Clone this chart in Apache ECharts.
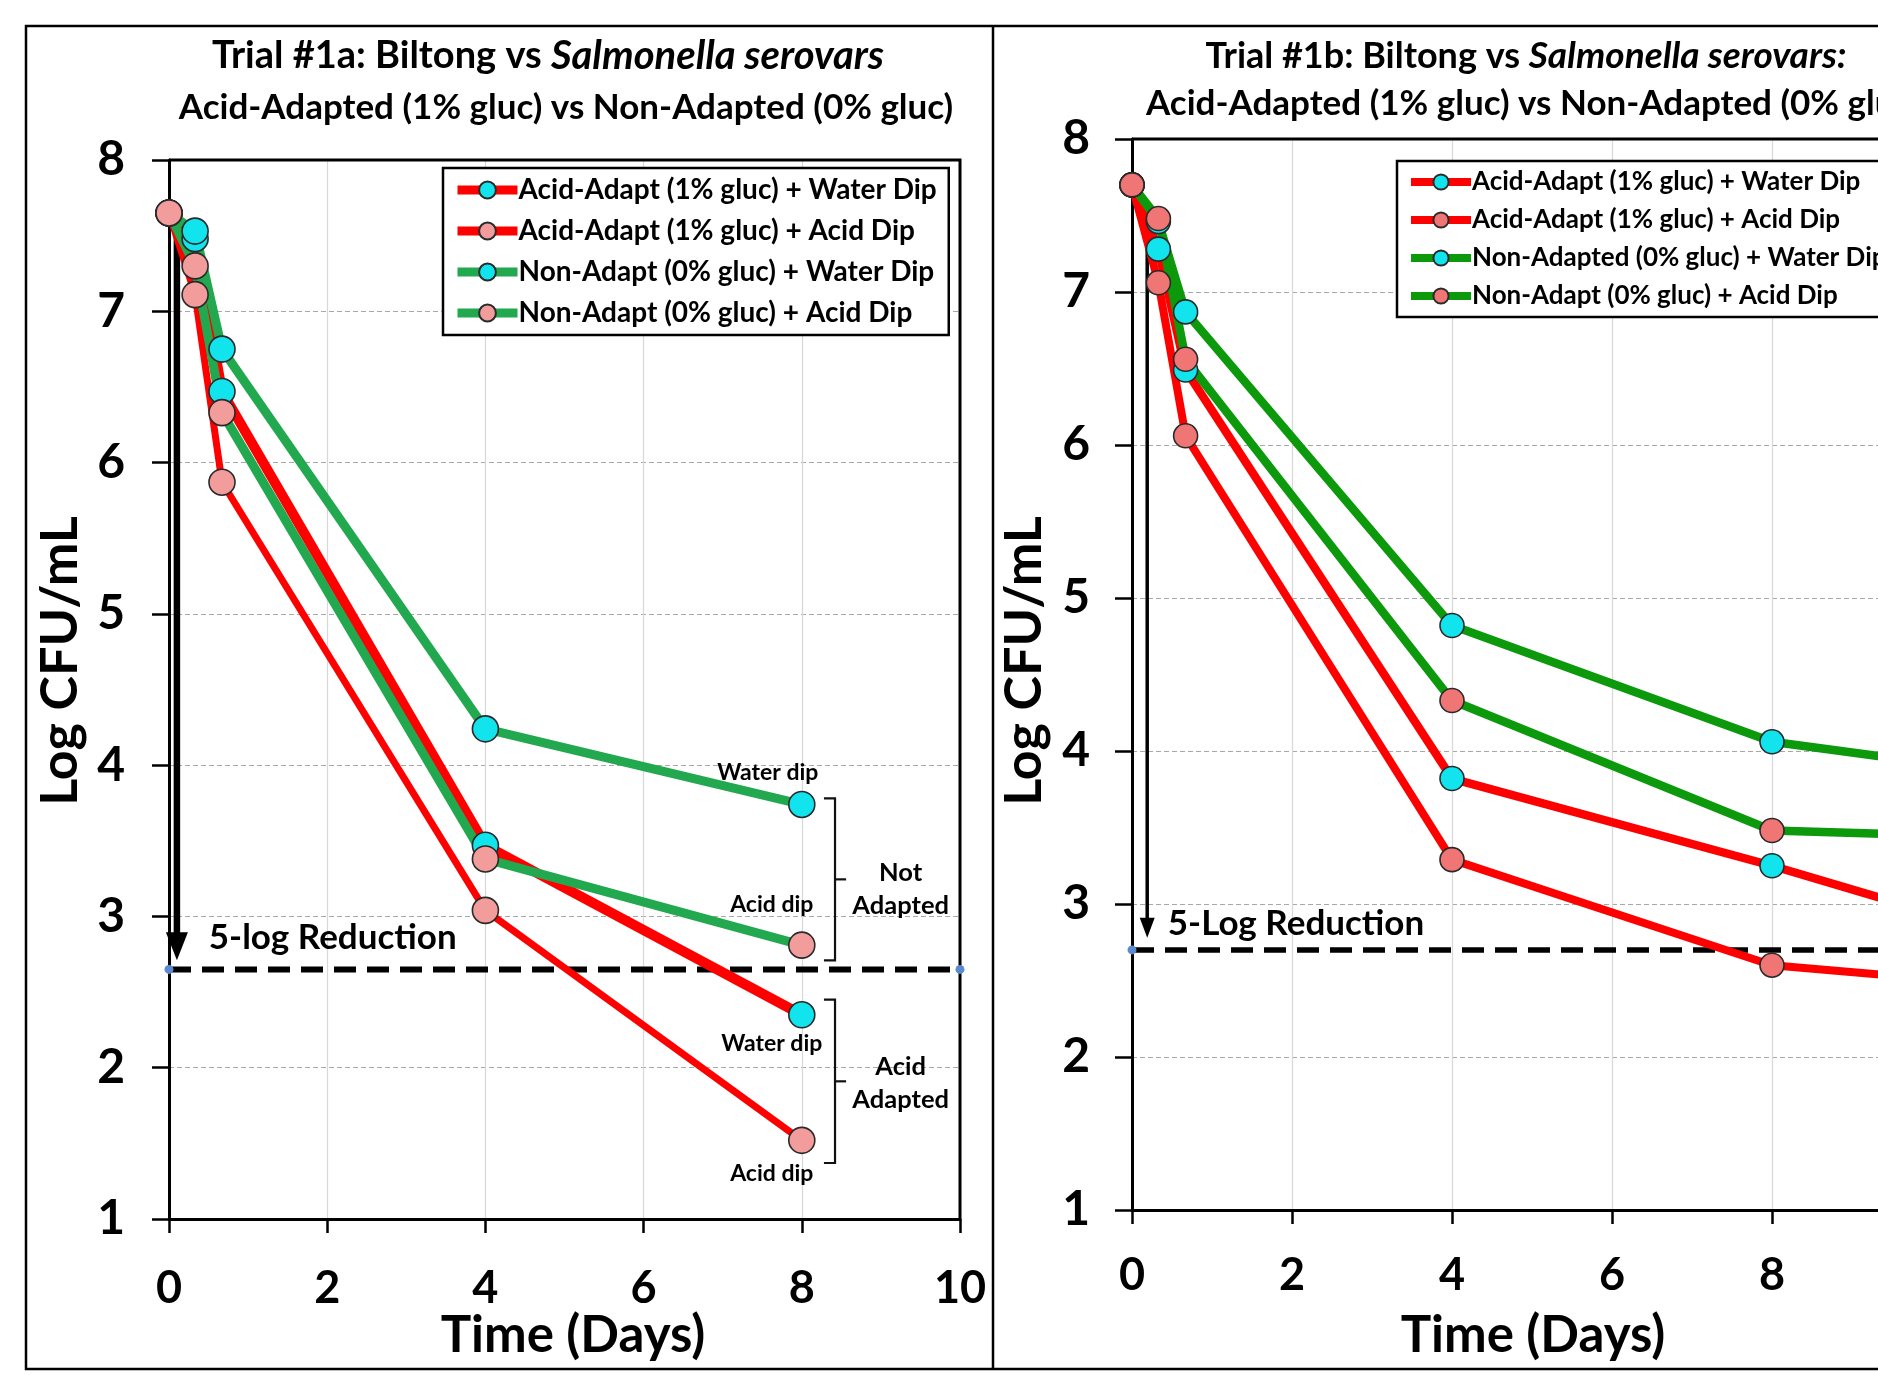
<!DOCTYPE html>
<html><head><meta charset="utf-8">
<script src="https://cdn.jsdelivr.net/npm/echarts@6/dist/echarts.min.js"></script>
<style>html,body{margin:0;padding:0;overflow:hidden;background:#fff}#c{width:2000px;height:1375px}</style>
</head><body><div id="c"></div>
<script>
// ---------- DATA ----------
// Trial #1a (left panel)
const timesA = [0, 0.33, 0.67, 4, 8];
const a_AAwater = [7.65, 7.48, 6.47, 3.47, 2.35];
const a_AAacid  = [7.65, 7.11, 5.87, 3.04, 1.52];
const a_NAwater = [7.65, 7.53, 6.75, 4.24, 3.74];
const a_NAacid  = [7.65, 7.30, 6.33, 3.38, 2.81];
const a_target = 2.65;           // 5-log reduction level
const namesA = ['Acid-Adapt (1% gluc) + Water Dip', 'Acid-Adapt (1% gluc) + Acid Dip', 'Non-Adapt (0% gluc) + Water Dip', 'Non-Adapt (0% gluc) + Acid Dip'];
// Trial #1b (right panel)
const timesB = [0, 0.33, 0.67, 4, 8, 10];
const b_AAwater = [7.70, 7.28, 6.49, 3.82, 3.25, 2.94];
const b_AAacid  = [7.70, 7.06, 6.06, 3.29, 2.60, 2.51];
const b_NAwater = [7.70, 7.46, 6.87, 4.82, 4.06, 3.92];
const b_NAacid  = [7.70, 7.48, 6.56, 4.33, 3.48, 3.45];
const b_target = 2.70;
const namesB = ['Acid-Adapt (1% gluc) + Water Dip\u200b', 'Acid-Adapt (1% gluc) + Acid Dip\u200b', 'Non-Adapted (0% gluc) + Water Dip', 'Non-Adapt (0% gluc) + Acid Dip\u200b'];
const xTicks = [0, 2, 4, 6, 8, 10];
const yTicks = [1, 2, 3, 4, 5, 6, 7, 8];
// annotations (data space)
const notesA = [
  {text: 'Water dip', x: 7.57, y: 3.95},
  {text: 'Acid dip', x: 7.62, y: 3.08},
  {text: 'Water dip', x: 7.62, y: 2.16},
  {text: 'Acid dip', x: 7.62, y: 1.30}
];
const groupNotesA = [
  {text: 'Not\nAdapted', x: 9.25, y: 3.18},
  {text: 'Acid\nAdapted', x: 9.25, y: 1.90}
];
const bracketsA = [ // [top, bottom]
  [3.78, 2.71],
  [2.45, 1.37]
];
const reductionLabelA = {text: '5-log Reduction', x: 2.07, y: 2.86};
const reductionLabelB = {text: '5-Log Reduction', x: 2.05, y: 2.87};
const arrowA = [[0.1, 7.56, 2.71]];   // [x, from, to]
const arrowB = [[0.19, 7.52, 2.78]];

// ---------- STYLES ----------
const F = 'Lato';
const RED = '#ff0000', GREEN_A = '#22a84e', GREEN_B = '#0c990c';
const CYAN = '#12e4ee', PINK_A = '#f39c9c', PINK_B = '#f07676';

function pts(xs, ys) { return xs.map((x, i) => [x, ys[i]]); }

function lineSeries(name, xs, ys, idx, lineColor, width, markerColor, size) {
  return {
    type: 'line', name, xAxisIndex: idx, yAxisIndex: idx,
    data: pts(xs, ys), symbol: 'circle', symbolSize: size, showSymbol: true,
    lineStyle: {color: lineColor, width: width},
    itemStyle: {color: markerColor, borderColor: '#2a2a2a', borderWidth: 1.6},
    emphasis: {disabled: true}, animation: false, z: 3
  };
}

function targetSeries(idx, level, width) {
  return {
    type: 'line', name: 'target' + idx, xAxisIndex: idx, yAxisIndex: idx,
    data: [[0, level], [10, level]], symbol: 'circle', symbolSize: 9,
    itemStyle: {color: '#5b8ad0'},
    lineStyle: {color: '#000', width: width, type: [22, 11]},
    emphasis: {disabled: true}, animation: false, z: 2
  };
}

function arrowSeries(idx, data, lw, headW, headL) {
  return {
    type: 'custom', name: 'arrow' + idx, xAxisIndex: idx, yAxisIndex: idx, silent: true, animation: false, z: 2,
    data: data,
    renderItem: (params, api) => {
      const p1 = api.coord([api.value(0), api.value(1)]);
      const p2 = api.coord([api.value(0), api.value(2)]);
      return {type: 'group', children: [
        {type: 'line', shape: {x1: p1[0], y1: p1[1], x2: p2[0], y2: p2[1] - headL + 2}, style: {stroke: '#000', lineWidth: lw}},
        {type: 'polygon', shape: {points: [[p2[0] - headW / 2, p2[1] - headL], [p2[0] + headW / 2, p2[1] - headL], [p2[0], p2[1]]]}, style: {fill: '#000'}}
      ]};
    }
  };
}

function frameSeries(idx) {
  return {
    type: 'custom', name: 'frame' + idx, xAxisIndex: idx, yAxisIndex: idx, silent: true, animation: false, z: 1,
    data: [[0]],
    renderItem: (params, api) => {
      const a = api.coord([0, 8]), b = api.coord([10, 8]), c = api.coord([10, 1]);
      return {type: 'polyline', shape: {points: [a, b, c]}, style: {stroke: '#000', lineWidth: 3, fill: null}};
    }
  };
}

// text annotations placed at data coordinates (custom series -> full opacity text)
function textSeries(idx, items, fontSize, lh) {
  return {
    type: 'custom', name: 'notes' + idx + '_' + fontSize, xAxisIndex: idx, yAxisIndex: idx,
    silent: true, animation: false, z: 5,
    data: items.map(n => [n.x, n.y]),
    renderItem: (params, api) => {
      const p = api.coord([api.value(0), api.value(1)]);
      return {type: 'text', x: p[0], y: p[1], style: {
        text: items[params.dataIndex].text, fill: '#000', fontFamily: F, fontWeight: 'bold',
        fontSize: fontSize, lineHeight: lh, textAlign: 'center', textVerticalAlign: 'middle'}};
    }
  };
}

const bracketSeries = {
  type: 'custom', name: 'brackets', xAxisIndex: 0, yAxisIndex: 0, silent: true, animation: false, z: 4,
  data: bracketsA,
  renderItem: (params, api) => {
    const top = api.value(0), bot = api.value(1), mid = (top + bot) / 2;
    const pTL = api.coord([8.28, top]), pVT = api.coord([8.42, top]);
    const pVB = api.coord([8.42, bot]), pBL = api.coord([8.28, bot]);
    const pM = api.coord([8.42, mid]), pMR = api.coord([8.56, mid]);
    return {type: 'group', children: [
      {type: 'polyline', shape: {points: [pTL, pVT, pVB, pBL]}, style: {stroke: '#111', lineWidth: 2.2, fill: null}},
      {type: 'line', shape: {x1: pM[0], y1: pM[1], x2: pMR[0], y2: pMR[1]}, style: {stroke: '#111', lineWidth: 2.2}}
    ]};
  }
};

function xAxis(idx, margin) {
  return {
    type: 'value', gridIndex: idx, min: 0, max: 10, interval: 2,
    axisLine: {show: true, onZero: false, lineStyle: {color: '#000', width: 3}},
    axisTick: {show: true, length: 14, lineStyle: {color: '#000', width: 2.5}},
    axisLabel: {fontFamily: F, fontWeight: 'bold', fontSize: 45, color: '#000', margin: margin,
      formatter: v => xTicks.includes(v) ? String(v) : ''},
    splitLine: {show: true, lineStyle: {color: '#d8d8d8', width: 1.2}}
  };
}
function yAxis(idx, margin) {
  return {
    type: 'value', gridIndex: idx, min: 1, max: 8, interval: 1,
    axisLine: {show: true, onZero: false, lineStyle: {color: '#000', width: 3}},
    axisTick: {show: true, length: 17, lineStyle: {color: '#000', width: 2.5}},
    axisLabel: {fontFamily: F, fontWeight: 'bold', fontSize: 48, color: '#000', margin: margin,
      formatter: v => yTicks.includes(v) ? String(v) : ''},
    splitLine: {show: true, lineStyle: {color: '#a8a8a8', width: 1.2, type: [5, 3]}}
  };
}

function legend(names, left, top, fontSize, gap, ih, lw) {
  return {
    orient: 'vertical', left, top, data: names, selectedMode: false,
    backgroundColor: '#fff', borderColor: '#000', borderWidth: 2.5, borderRadius: 0,
    padding: [8, 12, 8, 10], itemGap: gap, itemWidth: 60, itemHeight: ih,
    lineStyle: {width: lw},
    textStyle: {fontFamily: F, fontWeight: 'bold', fontSize, color: '#000', padding: [0, 0, 0, -4]}
  };
}

function tStyle(size, italicSize) {
  return {fontFamily: F, fontWeight: 'bold', fontSize: size, fill: '#000',
    rich: {i: {fontFamily: F, fontWeight: 'bold', fontStyle: 'italic', fontSize: italicSize}}};
}

const option = {
  backgroundColor: '#fff',
  animation: false,
  grid: [
    {left: 169, top: 160, width: 791, height: 1059},
    {left: 1132, top: 139, width: 800, height: 1071}
  ],
  xAxis: [xAxis(0, 47), xAxis(1, 43)],
  yAxis: [yAxis(0, 44), yAxis(1, 42)],
  legend: [legend(namesA, 443, 168, 28, 13, 21, 9), legend(namesB, 1397, 161, 26, 12, 19, 8)],
  series: [
    frameSeries(0),
    targetSeries(0, a_target, 6),
    arrowSeries(0, arrowA, 6.5, 22, 28),
    textSeries(0, [reductionLabelA], 35, 38),
    lineSeries(namesA[0], timesA, a_AAwater, 0, RED, 10, CYAN, 26),
    lineSeries(namesA[1], timesA, a_AAacid, 0, RED, 7, PINK_A, 26),
    lineSeries(namesA[2], timesA, a_NAwater, 0, GREEN_A, 9, CYAN, 26),
    lineSeries(namesA[3], timesA, a_NAacid, 0, GREEN_A, 9, PINK_A, 26),
    textSeries(0, notesA, 23, 26),
    textSeries(0, groupNotesA, 25.5, 33),
    bracketSeries,
    frameSeries(1),
    targetSeries(1, b_target, 5.5),
    arrowSeries(1, arrowB, 3.5, 15, 20),
    textSeries(1, [reductionLabelB], 35, 38),
    lineSeries(namesB[0], timesB, b_AAwater, 1, RED, 8.5, CYAN, 24),
    lineSeries(namesB[1], timesB, b_AAacid, 1, RED, 8, PINK_B, 24),
    lineSeries(namesB[2], timesB, b_NAwater, 1, GREEN_B, 8.5, CYAN, 24),
    lineSeries(namesB[3], timesB, b_NAacid, 1, GREEN_B, 8.5, PINK_B, 24)
  ],
  graphic: [
    {type: 'rect', shape: {x: 26, y: 26, width: 2100, height: 1343}, style: {fill: null, stroke: '#000', lineWidth: 2.5}, silent: true, z: 10},
    {type: 'line', shape: {x1: 993, y1: 26, x2: 993, y2: 1369}, style: {stroke: '#000', lineWidth: 2.5}, silent: true, z: 10},
    {type: 'text', x: 548, y: 56, style: Object.assign(tStyle(38, 40), {text: 'Trial #1a: Biltong vs {i|Salmonella serovars}', textAlign: 'center', textVerticalAlign: 'middle'})},
    {type: 'text', x: 566, y: 108, style: Object.assign(tStyle(35, 35), {text: 'Acid-Adapted (1% gluc) vs Non-Adapted (0% gluc)', textAlign: 'center', textVerticalAlign: 'middle'})},
    {type: 'text', x: 1526, y: 56, style: Object.assign(tStyle(36, 37), {text: 'Trial #1b: Biltong vs {i|Salmonella serovars:}', textAlign: 'center', textVerticalAlign: 'middle'})},
    {type: 'text', x: 1146, y: 104, style: Object.assign(tStyle(35, 35), {text: 'Acid-Adapted (1% gluc) vs Non-Adapted (0% gluc)', textAlign: 'left', textVerticalAlign: 'middle'})},
    {type: 'text', x: 60, y: 661, rotation: Math.PI / 2, style: {text: 'Log CFU/mL', fontFamily: F, fontWeight: 'bold', fontSize: 52, fill: '#000', textAlign: 'center', textVerticalAlign: 'middle'}},
    {type: 'text', x: 1024, y: 661, rotation: Math.PI / 2, style: {text: 'Log CFU/mL', fontFamily: F, fontWeight: 'bold', fontSize: 52, fill: '#000', textAlign: 'center', textVerticalAlign: 'middle'}},
    {type: 'text', x: 573, y: 1336, style: {text: 'Time (Days)', fontFamily: F, fontWeight: 'bold', fontSize: 51, fill: '#000', textAlign: 'center', textVerticalAlign: 'middle'}},
    {type: 'text', x: 1533, y: 1336, style: {text: 'Time (Days)', fontFamily: F, fontWeight: 'bold', fontSize: 51, fill: '#000', textAlign: 'center', textVerticalAlign: 'middle'}}
  ]
};
const chart = echarts.init(document.getElementById('c'), null, {renderer: 'canvas'});
chart.setOption(option);
</script></body></html>
